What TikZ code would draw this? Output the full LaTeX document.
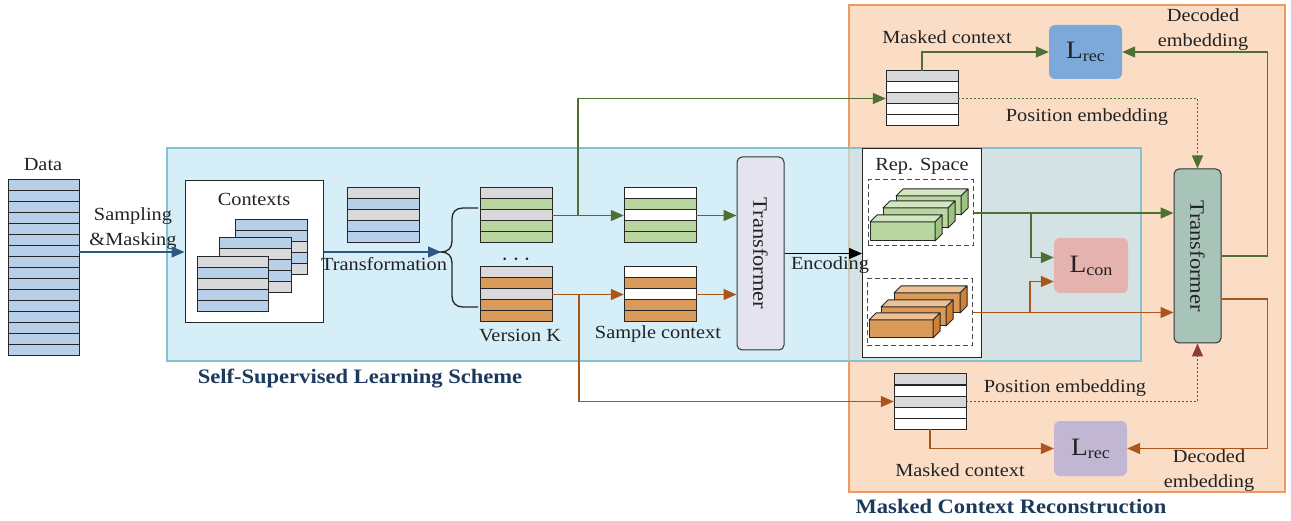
\documentclass[tikz,border=0pt]{standalone}
\usepackage{fontspec}
\setmainfont[FakeStretch=1.1]{Liberation Serif}
\usepackage{xcolor}
\usetikzlibrary{arrows.meta}

\definecolor{rowblue}{HTML}{B7CFE9}
\definecolor{rowgray}{HTML}{D9D9DB}
\definecolor{rowgreen}{HTML}{B9D6A0}
\definecolor{roworange}{HTML}{DA9A5A}
\definecolor{linegreen}{HTML}{4F7033}
\definecolor{lineorange}{HTML}{A9551B}
\definecolor{linered}{HTML}{8E3B3B}
\definecolor{lineblue}{HTML}{2F5783}
\definecolor{panelblue}{RGB}{192,229,245}
\definecolor{panelblueedge}{HTML}{84C1D1}
\definecolor{panelorange}{HTML}{FBDDC6}
\definecolor{panelorangeedge}{HTML}{EE9B63}
\definecolor{transgray}{HTML}{E4E3EF}
\definecolor{transgreen}{HTML}{A8C4B8}
\definecolor{lossblue}{HTML}{7DA9DA}
\definecolor{losspink}{HTML}{E4B3AF}
\definecolor{losspurple}{HTML}{C1B7D3}
\definecolor{titleblue}{HTML}{1B3A5C}
\definecolor{txtgray}{HTML}{222222}
\definecolor{cubegreentop}{HTML}{D3E6C2}
\definecolor{cubegreenside}{HTML}{9CC47E}
\definecolor{cubeorangetop}{HTML}{EDC193}
\definecolor{cubeorangeside}{HTML}{D07F33}

% rows of a context: name, left, top, width, row colours
\newcommand{\rowtable}[5]{%
    \foreach \c [count=\i] in {#5}
        \draw[rowline, fill=\c] (#2,{#3+(\i-1)*11}) rectangle ++(#4,11);
    \node[tablefit, minimum width=#4pt] (#1) at ({#2+#4/2},{#3+27.5}) {};
}
% cuboid: left, top, width, height, front, top, side
\newcommand{\cuboid}[7]{%
    \draw[cubeline, fill=#5] (#1,#2) rectangle ++(#3,#4);
    \draw[cubeline, fill=#6] (#1,#2) -- ++(7,-7) -- ++(#3,0) -- ++(-7,7) -- cycle;
    \draw[cubeline, fill=#7] ({#1+#3},#2) -- ++(7,-7) -- ++(0,#4) -- ++(-7,7) -- cycle;
}
\newcommand{\lossname}[1]{{\fontsize{25}{27}\selectfont L}\raisebox{-3pt}{\fontsize{16.5}{18}\selectfont #1}}

\begin{document}
\begin{tikzpicture}[x=1pt, y=-1pt, >={Triangle[length=13pt,width=11pt]},
    every node/.style={text=txtgray, font=\fontsize{18.5}{21}\selectfont},
    rowline/.style={draw=black!85, line width=1pt},
    tablefit/.style={inner sep=0pt, minimum height=55pt},
    cubeline/.style={draw=black!85, line width=1pt, line join=round},
    panel/.style={line width=1.2pt, inner sep=0pt},
    whitebox/.style={draw=black!85, fill=white, line width=1pt, inner sep=0pt},
    dashbox/.style={draw=black!70, dash pattern=on 5pt off 3pt, line width=1pt, inner sep=0pt},
    transbox/.style={draw=black!80, line width=1pt, rounded corners=5pt, inner sep=0pt, minimum width=47pt, font=\fontsize{20.5}{22}\selectfont},
    lossbox/.style={rounded corners=6pt, inner sep=0pt, minimum width=74pt, minimum height=55pt},
    blueline/.style={draw=lineblue, line width=1.4pt, ->},
    greenline/.style={draw=linegreen, line width=1.4pt},
    orangeline/.style={draw=lineorange, line width=1.4pt},
    dotline/.style={line width=1.4pt, dash pattern=on 2pt off 2pt},
    twoline/.style={align=center, font=\fontsize{18.5}{25}\selectfont},
    title/.style={font=\fontsize{20.5}{22}\selectfont\bfseries, text=titleblue}]

    \useasboundingbox (0,0) rectangle (1291,521);

    % Panels
    \node[panel, draw=panelorangeedge, fill=panelorange, minimum width=436pt, minimum height=487pt] (mcrpanel) at (1067,248.5) {};
    \node[panel, draw=panelblueedge, fill=panelblue, fill opacity=0.65, minimum width=974pt, minimum height=213pt] (sslpanel) at (654,254.5) {};
    \node[title] (ssltitle) at (360,379) {Self-Supervised Learning Scheme};
    \node[title] (mcrtitle) at (1011,507) {Masked Context Reconstruction};

    % Data
    \foreach \i in {0,...,15}
        \draw[rowline, fill=rowblue] (8,{180+\i*11}) rectangle ++(71,11);
    \node[tablefit, minimum width=71pt, minimum height=176pt] (data) at (43.5,268) {};
    \node (datalbl) at (43,165) {Data};

    % Contexts
    \node[whitebox, minimum width=138pt, minimum height=142pt] (contexts) at (254,252) {};
    \node (ctxlbl) at (254,199) {Contexts};
    \rowtable{ctxa}{235}{220}{72}{rowblue,rowblue,rowgray,rowblue,rowgray}
    \rowtable{ctxb}{219}{238}{72}{rowblue,rowgray,rowblue,rowblue,rowgray}
    \rowtable{ctxc}{197}{257}{71}{rowgray,rowblue,rowgray,rowblue,rowblue}
    \rowtable{trans}{347}{188}{72}{rowgray,rowblue,rowgray,rowblue,rowblue}

    % Versions
    \rowtable{verG}{480}{188}{72}{rowgray,rowgreen,rowgray,rowgreen,rowgreen}
    \rowtable{verK}{480}{267}{72}{rowgray,roworange,rowgray,roworange,roworange}
    \node[font=\fontsize{24}{24}\selectfont] (dots) at (516,260) {$\cdots$};
    \node (verlbl) at (520,336) {Version K};
    \rowtable{sampG}{624}{188}{72}{white,rowgreen,white,rowgreen,rowgreen}
    \rowtable{sampK}{624}{267}{72}{white,roworange,white,roworange,roworange}
    \node (samplbl) at (658,334) {Sample context};

    % Encoder
    \node[transbox, fill=transgray, minimum height=193pt] (trans1) at (760.5,253.5) {\rotatebox{-90}{Transformer}};

    % Representation space
    \node[whitebox, minimum width=119pt, minimum height=209pt] (rep) at (922,253.5) {};
    \node (replbl) at (922,166) {Rep. Space};
    \node[dashbox, minimum width=105pt, minimum height=66pt] (dash1) at (920.5,213) {};
    \node[dashbox, minimum width=105pt, minimum height=67pt] (dash2) at (919.5,312.5) {};
    \cuboid{896}{196}{65}{19}{rowgreen}{cubegreentop}{cubegreenside}
    \cuboid{883}{208}{65}{20}{rowgreen}{cubegreentop}{cubegreenside}
    \cuboid{870}{222}{65}{19}{rowgreen}{cubegreentop}{cubegreenside}
    \cuboid{894}{293}{66}{20}{roworange}{cubeorangetop}{cubeorangeside}
    \cuboid{881}{307}{65}{19}{roworange}{cubeorangetop}{cubeorangeside}
    \cuboid{869}{320}{64}{18}{roworange}{cubeorangetop}{cubeorangeside}

    % Decoder and losses
    \node[transbox, fill=transgreen, minimum height=174pt] (trans2) at (1197.5,256) {\rotatebox{-90}{Transformer}};
    \node[lossbox, fill=losspink] (lcon) at (1091,265.5) {\lossname{con}};
    \node[lossbox, fill=lossblue, minimum width=73pt, minimum height=54pt] (lrecT) at (1085.5,52) {\lossname{rec}};
    \node[lossbox, fill=losspurple, minimum width=73pt] (lrecB) at (1090.5,448.5) {\lossname{rec}};
    \rowtable{topmask}{886}{71}{72}{rowgray,white,rowgray,white,white}
    \rowtable{botmask}{894}{374}{72}{rowgray,white,rowgray,white,white}

    % Labels
    \node[twoline] (samplinglbl) at (133,229) {Sampling\\\&Masking};
    \node (translbl) at (384,264) {Transformation};
    \node (enclbl) at (830,265) {Encoding};
    \node (masklblT) at (947,37) {Masked context};
    \node (poslblT) at (1087,117) {Position embedding};
    \node[twoline] (declblT) at (1203,30) {Decoded\\embedding};
    \node (poslblB) at (1065,388) {Position embedding};
    \node (masklblB) at (960,470) {Masked context};
    \node[twoline] (declblB) at (1209,470.5) {Decoded\\embedding};

    % Connections
    \draw[blueline] (data.east |- contexts.west) -- (contexts.west);
    \coordinate (brace) at (441,252);
    \draw[blueline] (contexts.east) -- (brace);
    \draw[draw=black!85, line width=1.3pt] (478,208) -- (463,208)
        .. controls (456,208) and (452,212) .. (452,219) -- (452,241)
        .. controls (452,248) and (448,252) .. (441,252)
        .. controls (448,252) and (452,256) .. (452,263) -- (452,296)
        .. controls (452,303) and (456,307) .. (463,307) -- (478,307);

    \coordinate (gsplit) at (578,215.5);
    \coordinate (osplit) at (579,295);
    \draw[greenline, ->] (verG.east) -- (sampG.west);
    \draw[greenline, ->] (gsplit) |- (topmask.west);
    \draw[orangeline, ->] (verK.east) -- (sampK.west);
    \draw[orangeline, ->] (osplit) |- (botmask.west);
    \draw[greenline, ->] (sampG.east) -- (sampG.east -| trans1.west);
    \draw[orangeline, ->] (sampK.east) -- (sampK.east -| trans1.west);
    \draw[draw=black, line width=1.6pt, ->] (trans1) -- (rep);

    \coordinate (gcon) at (1031,213);
    \coordinate (ocon) at (1030,312.5);
    \draw[greenline, ->] (dash1.east) -- (dash1.east -| trans2.west);
    \draw[greenline, ->] (gcon) |- ([yshift=8pt]lcon.west);
    \draw[orangeline, ->] (dash2.east) -- (dash2.east -| trans2.west);
    \draw[orangeline, ->] (ocon) |- ([yshift=-16pt]lcon.west);

    \draw[greenline, ->] (trans2.east) -- ++(46,0) |- (lrecT.east);
    \draw[orangeline, ->] ([yshift=-43pt]trans2.east) -- ++(46,0) |- (lrecB.east);
    \draw[greenline, ->] (topmask.north) |- (lrecT.west);
    \draw[greenline, dotline, ->] (topmask.east) -| (trans2.north);
    \draw[orangeline, ->] (botmask.south) |- (lrecB.west);
    \draw[draw=linered, dotline, ->] (botmask.east) -| (trans2.south);
\end{tikzpicture}
\end{document}
